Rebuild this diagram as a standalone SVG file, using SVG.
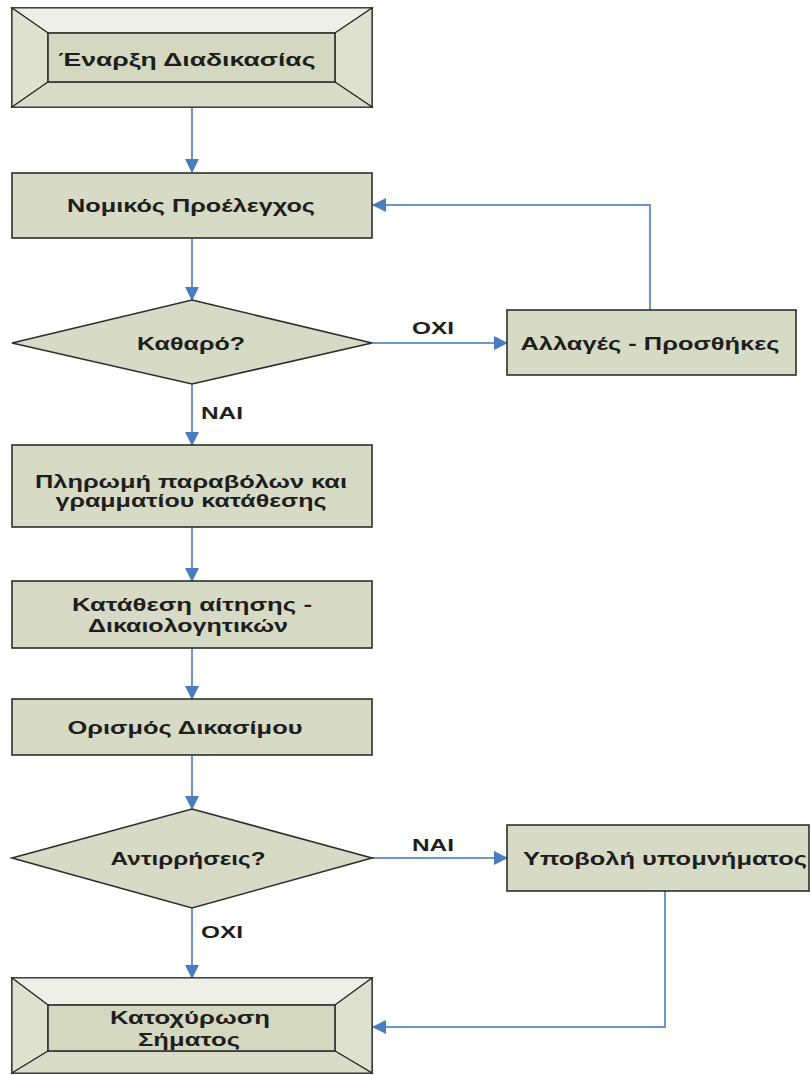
<svg xmlns="http://www.w3.org/2000/svg" width="811" height="1075" viewBox="0 0 811 1075">
<style>
.box{fill:#d7dac5;stroke:#2e2e2e;stroke-width:1.6}
.inner{fill:#d4d8c1;stroke:#2e2e2e;stroke-width:1.6}
.ftop{fill:#eeefe6;stroke:#2e2e2e;stroke-width:1.2}
.fside{fill:#dfe1d0;stroke:#2e2e2e;stroke-width:1.2}
.fbot{fill:#d9dcc8;stroke:#2e2e2e;stroke-width:1.2}
.t{font-family:"Liberation Sans",Arial,sans-serif;font-size:18px;font-weight:bold;fill:#1e1e1e;text-anchor:middle}
.lbl{font-family:"Liberation Sans",Arial,sans-serif;font-size:17px;font-weight:bold;fill:#1e1e1e;text-anchor:middle}
.c{fill:none;stroke:#7096c8;stroke-width:2}
</style>
<defs>
<marker id="ah" markerUnits="userSpaceOnUse" markerWidth="14" markerHeight="14" viewBox="0 0 14 14" refX="13" refY="7" orient="auto">
<path d="M0,0 L14,7 L0,14 Z" fill="#4a7cc0"/>
</marker>
</defs>

<g id="connectors">
<line class="c" x1="192" y1="107" x2="192" y2="172" marker-end="url(#ah)"/>
<line class="c" x1="192" y1="238" x2="192" y2="300" marker-end="url(#ah)"/>
<line class="c" x1="372" y1="343" x2="507" y2="343" marker-end="url(#ah)"/>
<polyline class="c" points="650,310 650,205 373,205" marker-end="url(#ah)"/>
<line class="c" x1="192" y1="384" x2="192" y2="445" marker-end="url(#ah)"/>
<line class="c" x1="192" y1="527" x2="192" y2="581" marker-end="url(#ah)"/>
<line class="c" x1="192" y1="648" x2="192" y2="699" marker-end="url(#ah)"/>
<line class="c" x1="192" y1="755" x2="192" y2="809" marker-end="url(#ah)"/>
<line class="c" x1="372" y1="858" x2="507" y2="858" marker-end="url(#ah)"/>
<polyline class="c" points="665,891 665,1027 373,1027" marker-end="url(#ah)"/>
<line class="c" x1="192" y1="908" x2="192" y2="978" marker-end="url(#ah)"/>
<text class="lbl" x="433" y="334" textLength="42" lengthAdjust="spacingAndGlyphs">ΟΧΙ</text>
<text class="lbl" x="222" y="419" textLength="42" lengthAdjust="spacingAndGlyphs">ΝΑΙ</text>
<text class="lbl" x="433" y="851" textLength="42" lengthAdjust="spacingAndGlyphs">ΝΑΙ</text>
<text class="lbl" x="222" y="938" textLength="42" lengthAdjust="spacingAndGlyphs">ΟΧΙ</text>
</g>

<g id="start">
<rect class="box" x="12" y="8" width="360" height="99"/>
<polygon class="ftop" points="12,8 372,8 335,33 48,33"/>
<polygon class="fside" points="12,8 48,33 48,82 12,107"/>
<polygon class="fside" points="372,8 335,33 335,82 372,107"/>
<polygon class="fbot" points="12,107 48,82 335,82 372,107"/>
<rect class="inner" x="48" y="33" width="287" height="49"/>
<text class="t" x="187" y="66" textLength="257" lengthAdjust="spacingAndGlyphs">Έναρξη Διαδικασίας</text>
</g>

<g id="nomikos">
<rect class="box" x="12" y="173" width="360" height="65"/>
<text class="t" x="191" y="212" textLength="248" lengthAdjust="spacingAndGlyphs">Νομικός Προέλεγχος</text>
</g>

<g id="katharo">
<polygon class="box" points="192,300 372,343 192,384 12,343"/>
<text class="t" x="191" y="350" textLength="108" lengthAdjust="spacingAndGlyphs">Καθαρό?</text>
</g>

<g id="allages">
<rect class="box" x="507" y="310" width="289" height="65"/>
<text class="t" x="650" y="350" textLength="259" lengthAdjust="spacingAndGlyphs">Αλλαγές - Προσθήκες</text>
</g>

<g id="pliromi">
<rect class="box" x="12" y="445" width="360" height="82"/>
<text class="t" x="191" y="488" textLength="312" lengthAdjust="spacingAndGlyphs">Πληρωμή παραβόλων και</text>
<text class="t" x="191" y="507" textLength="271" lengthAdjust="spacingAndGlyphs">γραμματίου κατάθεσης</text>
</g>

<g id="katathesi">
<rect class="box" x="12" y="581" width="360" height="67"/>
<text class="t" x="192" y="611" textLength="240" lengthAdjust="spacingAndGlyphs">Κατάθεση αίτησης -</text>
<text class="t" x="188" y="632" textLength="200" lengthAdjust="spacingAndGlyphs">Δικαιολογητικών</text>
</g>

<g id="orismos">
<rect class="box" x="12" y="699" width="360" height="56"/>
<text class="t" x="185" y="734" textLength="235" lengthAdjust="spacingAndGlyphs">Ορισμός Δικασίμου</text>
</g>

<g id="antirriseis">
<polygon class="box" points="192,809 372,858 192,908 12,858"/>
<text class="t" x="188" y="865" textLength="155" lengthAdjust="spacingAndGlyphs">Αντιρρήσεις?</text>
</g>

<g id="ypovoli">
<rect class="box" x="507" y="825" width="302" height="66"/>
<text class="t" x="665" y="865" textLength="284" lengthAdjust="spacingAndGlyphs">Υποβολή υπομνήματος</text>
</g>

<g id="end">
<rect class="box" x="12" y="978" width="360" height="95"/>
<polygon class="ftop" points="12,978 372,978 335,1005 48,1005"/>
<polygon class="fside" points="12,978 48,1005 48,1051 12,1073"/>
<polygon class="fside" points="372,978 335,1005 335,1051 372,1073"/>
<polygon class="fbot" points="12,1073 48,1051 335,1051 372,1073"/>
<rect class="inner" x="48" y="1005" width="287" height="46"/>
<text class="t" x="190" y="1024" textLength="160" lengthAdjust="spacingAndGlyphs">Κατοχύρωση</text>
<text class="t" x="189" y="1046" textLength="102" lengthAdjust="spacingAndGlyphs">Σήματος</text>
</g>
</svg>
